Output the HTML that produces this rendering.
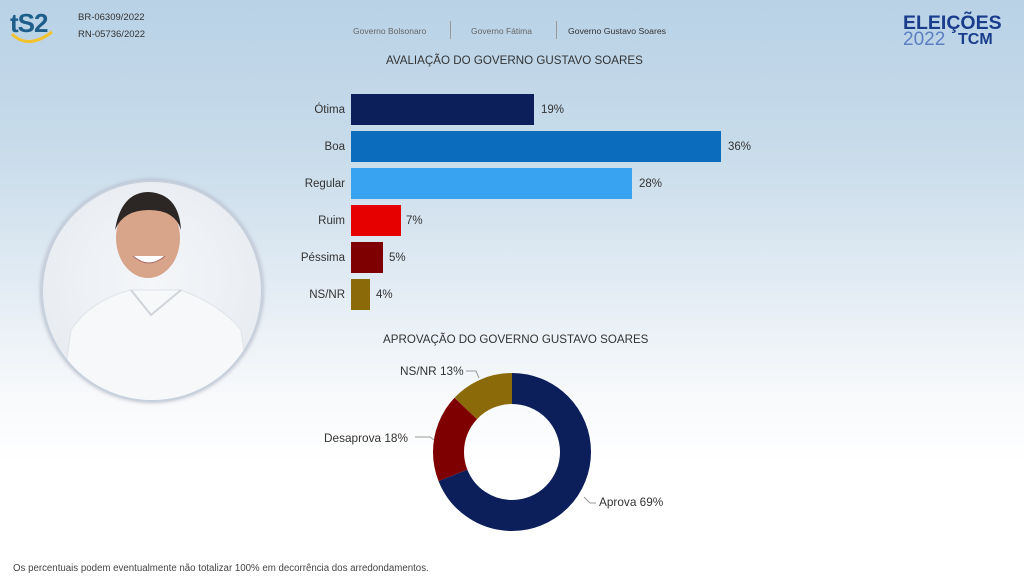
<!DOCTYPE html>
<html><head><meta charset="utf-8"><style>
*{margin:0;padding:0}
body{width:1024px;height:580px;overflow:hidden;position:relative;font-family:"Liberation Sans",sans-serif;
background:linear-gradient(180deg,#b9d2e6 0%,#c7dbea 25%,#e3ecf4 50%,#f7f9fb 68%,#fff 80%,#fff 100%);}
.t{position:absolute;white-space:nowrap;color:#333}
.bar{position:absolute;left:351px;height:31px}
.lbl{position:absolute;right:679px;font-size:11.5px;color:#333;text-align:right}
.val{position:absolute;font-size:11.5px;color:#333}
</style></head><body>
<div class="t" style="left:10px;top:8px;font-size:26px;font-weight:bold;color:#1e5e8a;letter-spacing:-1px">tS2</div>
<svg style="position:absolute;left:8px;top:28px" width="50" height="22"><path d="M4 6 Q20 22 44 4" stroke="#f2c12e" stroke-width="3" fill="none"/></svg>
<div class="t" style="left:78px;top:12px;font-size:9.5px">BR-06309/2022</div>
<div class="t" style="left:78px;top:29px;font-size:9.5px">RN-05736/2022</div>
<div class="t" style="left:353px;top:26px;font-size:8.5px;color:#666">Governo Bolsonaro</div>
<div style="position:absolute;left:450px;top:21px;width:1px;height:18px;background:#999"></div>
<div class="t" style="left:471px;top:26px;font-size:8.5px;color:#666">Governo Fátima</div>
<div style="position:absolute;left:556px;top:21px;width:1px;height:18px;background:#999"></div>
<div class="t" style="left:568px;top:26px;font-size:8.7px;color:#333">Governo Gustavo Soares</div>
<div class="t" style="left:903px;top:12px;font-size:19.5px;font-weight:bold;color:#1a3c8c">ELEIÇÕES</div>
<div class="t" style="left:903px;top:29px;font-size:19px;color:#5b7fc0">2022</div>
<div class="t" style="left:958px;top:31px;font-size:16px;font-weight:bold;color:#1a3c8c">TCM</div>
<div class="t" style="left:386px;top:54px;font-size:11.6px">AVALIAÇÃO DO GOVERNO GUSTAVO SOARES</div>

<div class="bar" style="top:94px;width:183px;background:#0c1f5a"></div>
<div class="bar" style="top:131px;width:370px;background:#0b6bbd"></div>
<div class="bar" style="top:168px;width:281px;background:#38a3f0"></div>
<div class="bar" style="top:205px;width:50px;background:#e60000"></div>
<div class="bar" style="top:242px;width:32px;background:#7f0000"></div>
<div class="bar" style="top:279px;width:19px;background:#8a6a09"></div>
<div class="lbl" style="top:104px">Ótima</div>
<div class="lbl" style="top:141px">Boa</div>
<div class="lbl" style="top:178px">Regular</div>
<div class="lbl" style="top:215px">Ruim</div>
<div class="lbl" style="top:252px">Péssima</div>
<div class="lbl" style="top:289px">NS/NR</div>
<div class="val" style="left:541px;top:104px">19%</div>
<div class="val" style="left:728px;top:141px">36%</div>
<div class="val" style="left:639px;top:178px">28%</div>
<div class="val" style="left:406px;top:215px">7%</div>
<div class="val" style="left:389px;top:252px">5%</div>
<div class="val" style="left:376px;top:289px">4%</div>

<div style="position:absolute;left:41px;top:180px;width:218px;height:218px;border-radius:50%;background:radial-gradient(circle at 50% 45%,#f4f6f9,#e4e9ef);border:2px solid #c5d0dc;box-shadow:0 0 4px #aab"></div>
<svg style="position:absolute;left:41px;top:180px" width="222" height="222">
<defs><clipPath id="c"><circle cx="111" cy="111" r="109"/></clipPath></defs>
<g clip-path="url(#c)">
<path d="M20 222 L30 150 Q50 120 90 110 L140 110 Q180 125 200 150 L210 222 Z" fill="#f7f8fa" stroke="#dfe3e8"/>
<path d="M90 110 L110 135 L140 110" fill="none" stroke="#cfd4da" stroke-width="2"/>
<ellipse cx="107" cy="58" rx="32" ry="40" fill="#d9a58a"/>
<path d="M74 50 Q80 12 108 12 Q138 14 140 50 Q134 30 108 30 Q82 30 74 50Z" fill="#2c2624"/>
<path d="M92 76 Q108 90 124 76" fill="#fff" stroke="#a66" stroke-width="1"/>
</g></svg>

<div class="t" style="left:383px;top:333px;font-size:11.6px">APROVAÇÃO DO GOVERNO GUSTAVO SOARES</div>
<svg style="position:absolute;left:0;top:0" width="1024" height="580">
<g transform="rotate(-90 512 452)" fill="none" stroke-width="31">
<circle cx="512" cy="452" r="63.5" stroke="#0c1f5a" stroke-dasharray="275.3 400"/>
<circle cx="512" cy="452" r="63.5" stroke="#7f0000" stroke-dasharray="0 275.3 71.8 400"/>
<circle cx="512" cy="452" r="63.5" stroke="#8a6a09" stroke-dasharray="0 347.1 51.9 400"/>
</g>
<path d="M466 371 L476 371 L479 378" stroke="#999" fill="none"/>
<path d="M415 437 L430 437 L434 440" stroke="#999" fill="none"/>
<path d="M584 497 L590 503 L596 503" stroke="#999" fill="none"/>
</svg>
<div class="t" style="left:400px;top:364px;font-size:11.8px">NS/NR 13%</div>
<div class="t" style="left:324px;top:431px;font-size:11.8px">Desaprova 18%</div>
<div class="t" style="left:599px;top:495px;font-size:11.8px">Aprova 69%</div>
<div class="t" style="left:13px;top:563px;font-size:9.7px;color:#444">Os percentuais podem eventualmente não totalizar 100% em decorrência dos arredondamentos.</div>
</body></html>
